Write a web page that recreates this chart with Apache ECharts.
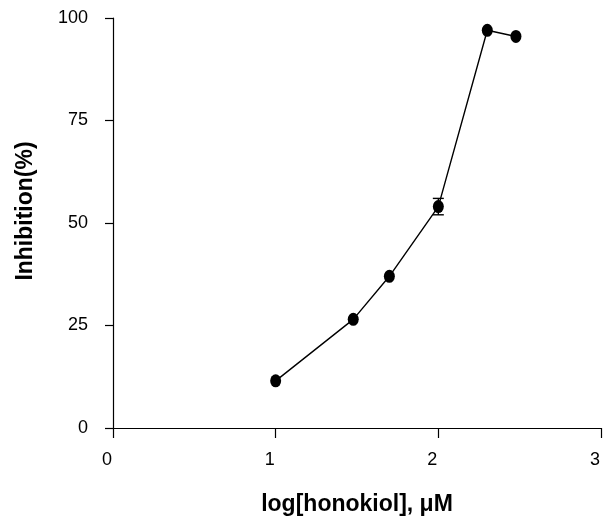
<!DOCTYPE html>
<html>
<head>
<meta charset="utf-8">
<script src="https://cdn.jsdelivr.net/npm/echarts@6/dist/echarts.min.js"></script>
<style>
    html, body { margin: 0; padding: 0; background: #fff; }
    #chart { width: 603px; height: 521px; }
</style>
</head>
<body>
<div id="chart"></div>
<script>
// log concentration of honokiol (uM) and inhibition (%)
let logConc = [1.0, 1.477, 1.699, 2.0, 2.301, 2.477];
let inhibition = [11.5, 26.5, 37, 54, 97, 95.5];
let errors = [0, 0, 0, 2, 0, 0];
let xTicks = [0, 1, 2, 3];
let yTicks = [0, 25, 50, 75, 100];

let chart = echarts.init(document.getElementById("chart"));
let font = "'Liberation Sans', Arial, sans-serif";

let option = {
    backgroundColor: "#fff",
    animation: false,
    grid: {
        left: 113,
        right: 1,
        top: 18,
        bottom: 90,
        containLabel: false
    },
    xAxis: {
        type: "value",
        min: xTicks[0],
        max: xTicks[xTicks.length - 1],
        interval: 1,
        name: "log[honokiol], \u03bcM",
        nameLocation: "middle",
        nameGap: 65,
        nameTextStyle: { color: "#000", fontSize: 23, fontWeight: "bold", fontFamily: font },
        axisLine: { onZero: false, lineStyle: { color: "#000", width: 1.2 } },
        axisTick: { show: true, inside: false, length: 10, lineStyle: { color: "#000", width: 1.2 } },
        axisLabel: { color: "#000", fontSize: 18, fontFamily: font, margin: 23, padding: [0, 12, 0, 0] },
        splitLine: { show: false }
    },
    yAxis: {
        type: "value",
        min: yTicks[0],
        max: yTicks[yTicks.length - 1],
        interval: 25,
        name: "Inhibition(%)",
        nameLocation: "middle",
        nameGap: 76,
        nameTextStyle: { color: "#000", fontSize: 23, fontWeight: "bold", fontFamily: font, padding: [0, 0, 0, 24] },
        axisLine: { show: true, onZero: false, lineStyle: { color: "#000", width: 1.2 } },
        axisTick: { show: true, inside: false, length: 8, lineStyle: { color: "#000", width: 1.2 } },
        axisLabel: { color: "#000", fontSize: 18, fontFamily: font, margin: 25 },
        splitLine: { show: false }
    },
    series: [
        {
            name: "inhibition",
            type: "line",
            data: logConc.map((x, i) => [x, inhibition[i]]),
            symbol: "circle",
            symbolSize: [11, 13],
            lineStyle: { color: "#000", width: 1.4 },
            itemStyle: { color: "#000" },
            z: 3
        },
        {
            name: "error",
            type: "custom",
            data: logConc.map((x, i) => [x, inhibition[i] - errors[i], inhibition[i] + errors[i]]),
            renderItem: function (params, api) {
                let lo = api.coord([api.value(0), api.value(1)]);
                let hi = api.coord([api.value(0), api.value(2)]);
                if (Math.abs(hi[1] - lo[1]) < 1) {
                    return null;
                }
                let w = 5.5;
                let style = { stroke: "#000", lineWidth: 1.4 };
                return {
                    type: "group",
                    children: [
                        { type: "line", shape: { x1: lo[0], y1: lo[1], x2: hi[0], y2: hi[1] }, style: style },
                        { type: "line", shape: { x1: lo[0] - w, y1: lo[1], x2: lo[0] + w, y2: lo[1] }, style: style },
                        { type: "line", shape: { x1: hi[0] - w, y1: hi[1], x2: hi[0] + w, y2: hi[1] }, style: style }
                    ]
                };
            },
            z: 4
        }
    ]
};
chart.setOption(option);
</script>
</body>
</html>
